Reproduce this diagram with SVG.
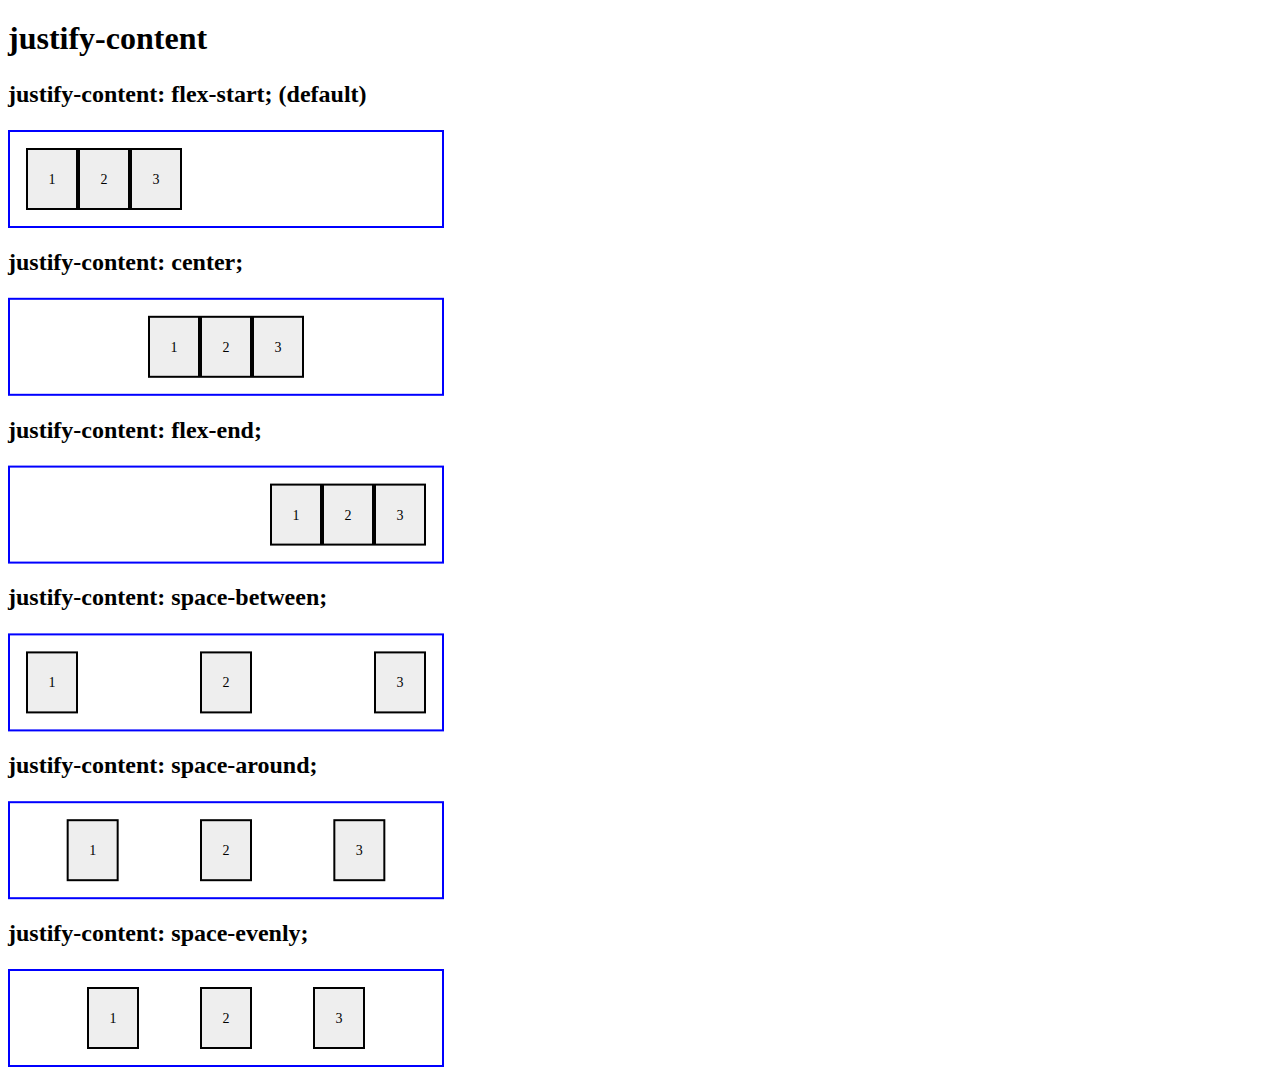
<svg xmlns="http://www.w3.org/2000/svg" width="1280" height="1076" viewBox="0 0 1280 1076">
  <style>
    .h1 { font-family: "Liberation Serif", "Times New Roman", serif; font-size: 32px; font-weight: bold; fill: #000; }
    .h3 { font-family: "Liberation Serif", "Times New Roman", serif; font-size: 24px; font-weight: bold; fill: #000; }
    .box { fill: #fff; stroke: #0000ff; stroke-width: 2; }
    .item { fill: #eeeeee; stroke: #000; stroke-width: 2; }
    .num { font-family: "Liberation Serif", "Times New Roman", serif; font-size: 14px; fill: #000; text-anchor: middle; }
  </style>
  <defs>
    <!-- one flex item: 52x62 outer box with a 2px black border -->
    <rect id="itm" class="item" x="1" y="1" width="50" height="60"/>
  </defs>
  <rect width="1280" height="1076" fill="#fff"/>

  <text class="h1" x="8" y="49">justify-content</text>

  <!-- flex-start -->
  <g id="flex-start">
    <text class="h3" x="8" y="102">justify-content: flex-start; (default)</text>
    <rect class="box" x="9" y="131" width="434" height="96"/>
    <g transform="translate(26,148)"><use href="#itm"/><text class="num" x="26" y="36">1</text></g>
    <g transform="translate(78,148)"><use href="#itm"/><text class="num" x="26" y="36">2</text></g>
    <g transform="translate(130,148)"><use href="#itm"/><text class="num" x="26" y="36">3</text></g>
  </g>

  <!-- center -->
  <g id="center" transform="translate(0,167.8)">
    <text class="h3" x="8" y="102">justify-content: center;</text>
    <rect class="box" x="9" y="131" width="434" height="96"/>
    <g transform="translate(148,148)"><use href="#itm"/><text class="num" x="26" y="36">1</text></g>
    <g transform="translate(200,148)"><use href="#itm"/><text class="num" x="26" y="36">2</text></g>
    <g transform="translate(252,148)"><use href="#itm"/><text class="num" x="26" y="36">3</text></g>
  </g>

  <!-- flex-end -->
  <g id="flex-end" transform="translate(0,335.6)">
    <text class="h3" x="8" y="102">justify-content: flex-end;</text>
    <rect class="box" x="9" y="131" width="434" height="96"/>
    <g transform="translate(270,148)"><use href="#itm"/><text class="num" x="26" y="36">1</text></g>
    <g transform="translate(322,148)"><use href="#itm"/><text class="num" x="26" y="36">2</text></g>
    <g transform="translate(374,148)"><use href="#itm"/><text class="num" x="26" y="36">3</text></g>
  </g>

  <!-- space-between -->
  <g id="space-between" transform="translate(0,503.4)">
    <text class="h3" x="8" y="102">justify-content: space-between;</text>
    <rect class="box" x="9" y="131" width="434" height="96"/>
    <g transform="translate(26,148)"><use href="#itm"/><text class="num" x="26" y="36">1</text></g>
    <g transform="translate(200,148)"><use href="#itm"/><text class="num" x="26" y="36">2</text></g>
    <g transform="translate(374,148)"><use href="#itm"/><text class="num" x="26" y="36">3</text></g>
  </g>

  <!-- space-around -->
  <g id="space-around" transform="translate(0,671.2)">
    <text class="h3" x="8" y="102">justify-content: space-around;</text>
    <rect class="box" x="9" y="131" width="434" height="96"/>
    <g transform="translate(66.67,148)"><use href="#itm"/><text class="num" x="26" y="36">1</text></g>
    <g transform="translate(200,148)"><use href="#itm"/><text class="num" x="26" y="36">2</text></g>
    <g transform="translate(333.33,148)"><use href="#itm"/><text class="num" x="26" y="36">3</text></g>
  </g>

  <!-- space-evenly -->
  <g id="space-evenly" transform="translate(0,839)">
    <text class="h3" x="8" y="102">justify-content: space-evenly;</text>
    <rect class="box" x="9" y="131" width="434" height="96"/>
    <g transform="translate(87,148)"><use href="#itm"/><text class="num" x="26" y="36">1</text></g>
    <g transform="translate(200,148)"><use href="#itm"/><text class="num" x="26" y="36">2</text></g>
    <g transform="translate(313,148)"><use href="#itm"/><text class="num" x="26" y="36">3</text></g>
  </g>

  <g id="connectors"/>
</svg>
